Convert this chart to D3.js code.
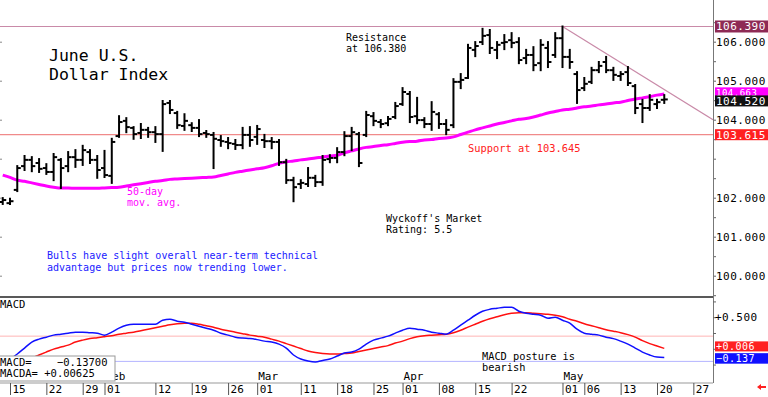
<!DOCTYPE html>
<html>
<head>
<meta charset="utf-8">
<script src="https://cdn.jsdelivr.net/npm/d3@7"></script>
<style>
body { margin: 0; background: #fff; }
svg text { font-family: "DejaVu Sans Mono", monospace; }
</style>
</head>
<body>
<script>
// June U.S. Dollar Index, daily bars Jan 12 - May 21 2024 (one value per session)
var holidays = ["2024-03-29"];

var opens = [101.89, 101.86, 102.20, 102.81, 102.97, 102.89, 102.76, 102.66, 102.97, 102.81,
  103.04, 102.97, 103.17, 102.97, 102.76, 102.56, 103.58, 103.97, 103.79, 103.66,
  103.74, 103.68, 103.63, 104.43, 104.17, 103.84, 103.86, 103.79, 103.66, 103.61,
  103.48, 103.43, 103.38, 103.35, 103.61, 103.56, 103.48, 103.45, 103.43, 102.91,
  102.45, 102.35, 102.35, 102.51, 102.40, 102.99, 103.02, 103.17, 103.58, 103.63,
  103.61, 104.09, 103.94, 103.91, 104.07, 104.40, 104.66, 104.09, 103.99, 103.89,
  104.14, 103.89, 103.86, 104.97, 105.07, 105.79, 105.99, 106.17, 105.79, 105.97,
  106.04, 105.99, 105.58, 105.66, 105.45, 105.84, 105.66, 106.09, 105.61, 105.17,
  104.81, 104.97, 105.27, 105.48, 105.27, 105.12, 105.22, 104.86, 104.40, 104.30,
  104.40, 104.51];
var highs = [101.99, 101.97, 102.81, 103.07, 103.04, 102.99, 102.86, 103.12, 102.99, 103.17,
  103.22, 103.33, 103.22, 103.07, 103.20, 103.51, 104.09, 104.04, 103.81, 103.89,
  103.79, 103.81, 104.48, 104.48, 104.20, 104.14, 103.91, 103.99, 103.71, 103.66,
  103.58, 103.53, 103.48, 103.79, 103.81, 103.84, 103.61, 103.53, 103.48, 102.97,
  102.51, 102.45, 102.76, 102.56, 103.07, 103.09, 103.27, 103.68, 103.79, 103.66,
  104.20, 104.17, 103.99, 104.07, 104.43, 104.81, 104.71, 104.56, 104.04, 104.45,
  104.17, 103.99, 105.04, 105.17, 105.92, 105.99, 106.33, 106.30, 105.99, 106.17,
  106.22, 106.09, 105.79, 105.86, 106.04, 105.99, 106.22, 106.39, 105.79, 105.22,
  105.07, 105.33, 105.48, 105.61, 105.33, 105.22, 105.35, 104.89, 104.51, 104.63,
  104.51, 104.63];
var lows = [101.84, 101.84, 102.17, 102.71, 102.68, 102.66, 102.61, 102.45, 102.25, 102.68,
  102.79, 102.84, 102.89, 102.51, 102.53, 102.38, 103.56, 103.68, 103.51, 103.53,
  103.56, 103.43, 103.20, 104.17, 103.79, 103.74, 103.71, 103.58, 103.56, 102.76,
  103.33, 103.27, 103.25, 103.27, 103.33, 103.38, 103.30, 103.27, 102.84, 102.38,
  101.91, 102.25, 102.30, 102.30, 102.33, 102.91, 102.91, 103.09, 103.22, 102.81,
  103.58, 103.86, 103.81, 103.86, 104.04, 104.38, 103.94, 103.91, 103.81, 103.74,
  103.79, 103.63, 103.81, 104.81, 105.07, 105.63, 105.94, 105.71, 105.58, 105.81,
  105.86, 105.45, 105.45, 105.27, 105.27, 105.35, 105.61, 105.35, 105.33, 104.43,
  104.76, 104.94, 105.22, 105.22, 105.02, 105.02, 104.89, 104.17, 103.94, 104.25,
  104.30, 104.43];
var closes = [101.94, 101.91, 102.76, 102.97, 102.81, 102.74, 102.66, 103.04, 102.76, 103.04,
  102.97, 103.22, 102.97, 102.71, 102.58, 103.43, 103.94, 103.81, 103.63, 103.74,
  103.68, 103.63, 104.40, 104.25, 103.86, 103.97, 103.79, 103.63, 103.63, 103.51,
  103.45, 103.40, 103.35, 103.61, 103.48, 103.76, 103.45, 103.43, 102.91, 102.45,
  102.27, 102.38, 102.51, 102.40, 102.97, 103.02, 103.17, 103.58, 103.68, 102.89,
  104.12, 103.97, 103.89, 104.02, 104.35, 104.71, 104.07, 103.99, 103.89, 104.20,
  103.89, 103.74, 104.97, 105.02, 105.84, 105.89, 106.15, 105.84, 105.92, 105.99,
  105.97, 105.53, 105.66, 105.40, 105.92, 105.48, 106.09, 105.61, 105.48, 104.76,
  104.92, 105.27, 105.38, 105.27, 105.15, 105.17, 104.94, 104.30, 104.30, 104.51,
  104.45, 104.52];
var ma50 = [102.58, 102.52, 102.45, 102.42, 102.38, 102.34, 102.30, 102.27, 102.25, 102.25,
  102.24, 102.24, 102.24, 102.24, 102.25, 102.26, 102.27, 102.30, 102.33, 102.36,
  102.39, 102.42, 102.44, 102.47, 102.48, 102.49, 102.50, 102.51, 102.52, 102.53,
  102.57, 102.61, 102.65, 102.68, 102.71, 102.74, 102.77, 102.82, 102.88, 102.92,
  102.94, 102.97, 102.99, 103.02, 103.04, 103.07, 103.09, 103.15, 103.20, 103.25,
  103.29, 103.31, 103.34, 103.36, 103.39, 103.42, 103.44, 103.45, 103.48, 103.49,
  103.52, 103.53, 103.56, 103.62, 103.68, 103.74, 103.79, 103.84, 103.89, 103.93,
  103.97, 104.01, 104.03, 104.07, 104.12, 104.17, 104.21, 104.25, 104.27, 104.30,
  104.33, 104.35, 104.38, 104.40, 104.43, 104.45, 104.49, 104.53, 104.56, 104.59,
  104.63, 104.66];
var macd = [-0.209, -0.162, -0.083, 0.011, 0.106, 0.153, 0.184, 0.216, 0.231, 0.247,
  0.263, 0.263, 0.255, 0.247, 0.216, 0.263, 0.326, 0.373, 0.389, 0.389,
  0.389, 0.389, 0.452, 0.468, 0.436, 0.420, 0.389, 0.357, 0.326, 0.294,
  0.247, 0.216, 0.184, 0.169, 0.161, 0.145, 0.121, 0.106, 0.074, 0.011,
  -0.099, -0.162, -0.194, -0.209, -0.186, -0.162, -0.115, -0.068, -0.052, -0.005,
  0.074, 0.137, 0.169, 0.200, 0.247, 0.294, 0.326, 0.310, 0.294, 0.263,
  0.247, 0.231, 0.294, 0.373, 0.452, 0.531, 0.594, 0.625, 0.641, 0.657,
  0.657, 0.594, 0.562, 0.546, 0.531, 0.483, 0.499, 0.452, 0.405, 0.310,
  0.247, 0.231, 0.216, 0.184, 0.161, 0.121, 0.074, 0.011, -0.052, -0.099,
  -0.131, -0.137];
var macdAvg = [-0.335, -0.272, -0.225, -0.178, -0.146, -0.099, -0.052, -0.005, 0.027, 0.058,
  0.106, 0.137, 0.161, 0.176, 0.192, 0.208, 0.231, 0.247, 0.263, 0.287,
  0.310, 0.334, 0.357, 0.381, 0.397, 0.405, 0.405, 0.389, 0.365, 0.342,
  0.310, 0.287, 0.263, 0.239, 0.216, 0.200, 0.184, 0.153, 0.121, 0.082,
  0.043, 0.003, -0.036, -0.060, -0.076, -0.083, -0.083, -0.076, -0.068, -0.044,
  -0.020, 0.003, 0.027, 0.050, 0.090, 0.121, 0.161, 0.192, 0.208, 0.216,
  0.224, 0.231, 0.255, 0.294, 0.342, 0.389, 0.436, 0.476, 0.507, 0.539,
  0.562, 0.570, 0.570, 0.562, 0.554, 0.546, 0.531, 0.507, 0.468, 0.436,
  0.397, 0.365, 0.334, 0.302, 0.279, 0.255, 0.224, 0.184, 0.129, 0.082,
  0.043, 0.006];

var priceLabels = [106, 105, 104, 102, 101, 100];
var resistance = 106.39, support = 103.615, maLast = 104.663;
var trendPts = [["2024-05-01", 106.39], ["2024-05-14", 105.35]];
var dayTicks = ["2024-01-15", "2024-01-22", "2024-01-29", "2024-02-01", "2024-02-12", "2024-02-19",
  "2024-02-26", "2024-03-01", "2024-03-11", "2024-03-18", "2024-03-25", "2024-04-01", "2024-04-08",
  "2024-04-15", "2024-04-22", "2024-05-01", "2024-05-06", "2024-05-13", "2024-05-20", "2024-05-27"];
var monthTicks = [["2024-02-01", "Feb"], ["2024-03-01", "Mar"], ["2024-04-01", "Apr"], ["2024-05-01", "May"]];

var width = 768, height = 397, plotRight = 713;

var parse = d3.timeParse("%Y-%m-%d"), fmt = d3.timeFormat("%Y-%m-%d");
var sessions = d3.timeDay.range(parse("2024-01-12"), parse("2024-06-01"))
  .filter(function(d) { return d.getDay() > 0 && d.getDay() < 6; })
  .map(fmt)
  .filter(function(s) { return holidays.indexOf(s) < 0; });
function idx(s) { return sessions.indexOf(s); }

var bars = closes.map(function(c, i) {
  return {i: i, o: opens[i], h: highs[i], l: lows[i], c: c, ma: ma50[i], m: macd[i], a: macdAvg[i]};
});

var x = d3.scaleLinear().domain([1, 90]).range([10, 657]);
var y = d3.scaleLinear().domain([100, 106]).range([275.7, 41.7]);
var ym = d3.scaleLinear().domain([-0.2, 0.5]).range([361.4, 317.2]);

var svg = d3.select("body").append("svg")
  .attr("width", width)
  .attr("height", height);

var defs = svg.append("defs");
defs.append("clipPath").attr("id", "cp").append("rect")
  .attr("x", 0).attr("y", 0).attr("width", plotRight).attr("height", 296);
defs.append("clipPath").attr("id", "cm").append("rect")
  .attr("x", 0).attr("y", 298).attr("width", plotRight).attr("height", 84);

// ---- price panel
var price = svg.append("g").attr("clip-path", "url(#cp)");

price.append("line")
  .attr("x1", 0).attr("x2", plotRight)
  .attr("y1", y(resistance)).attr("y2", y(resistance))
  .attr("stroke", "#c98aa8").attr("stroke-width", 1.2);
price.append("line")
  .attr("x1", 0).attr("x2", plotRight)
  .attr("y1", y(support)).attr("y2", y(support))
  .attr("stroke", "#f08a8a").attr("stroke-width", 1.2);

// down trend line through the May highs, carried to the right edge
var t0 = idx(trendPts[0][0]), t1 = idx(trendPts[1][0]);
var slope = (trendPts[1][1] - trendPts[0][1]) / (t1 - t0);
var tEnd = x.invert(plotRight);
price.append("line")
  .attr("x1", x(t0)).attr("y1", y(trendPts[0][1]))
  .attr("x2", x(tEnd)).attr("y2", y(trendPts[0][1] + slope * (tEnd - t0)))
  .attr("stroke", "#c98aa8").attr("stroke-width", 1.2);

price.append("path")
  .datum(bars)
  .attr("fill", "none")
  .attr("stroke", "#ff00ff")
  .attr("stroke-width", 3)
  .attr("d", d3.line().curve(d3.curveMonotoneX)
    .x(function(d) { return x(d.i); })
    .y(function(d) { return y(d.ma); }));

var bar = price.selectAll("g.bar").data(bars).enter().append("g")
  .attr("class", "bar")
  .attr("stroke", "#000")
  .attr("stroke-width", 2);
bar.append("line")
  .attr("x1", function(d) { return x(d.i); }).attr("x2", function(d) { return x(d.i); })
  .attr("y1", function(d) { return y(d.h) - 1; }).attr("y2", function(d) { return y(d.l) + 1; });
bar.append("line")
  .attr("x1", function(d) { return x(d.i) - 3.5; }).attr("x2", function(d) { return x(d.i); })
  .attr("y1", function(d) { return y(d.o); }).attr("y2", function(d) { return y(d.o); });
bar.append("line")
  .attr("x1", function(d) { return x(d.i); }).attr("x2", function(d) { return x(d.i) + 3.5; })
  .attr("y1", function(d) { return y(d.c); }).attr("y2", function(d) { return y(d.c); });

// texts
function lines(g, x0, y0, step, txt, size, color) {
  txt.forEach(function(t, k) {
    g.append("text").attr("x", x0).attr("y", y0 + k * step)
      .attr("font-size", size).attr("fill", color).text(t);
  });
}
lines(svg, 49, 61, 19, ["June U.S.", "Dollar Index"], "16.5px", "#000");
lines(svg, 346, 41, 10.5, ["Resistance", "at 106.380"], "10px", "#000");
svg.append("text").attr("x", 468).attr("y", 152).attr("font-size", "10.4px")
  .attr("fill", "#ff2020").text("Support at 103.645");
lines(svg, 127, 195, 10.5, ["50-day", "mov. avg."], "10px", "#ff00ff");
lines(svg, 386, 222, 10.5, ["Wyckoff's Market", "Rating: 5.5"], "10px", "#000");
lines(svg, 47, 259, 11.5, ["Bulls have slight overall near-term technical",
  "advantage but prices now trending lower."], "10px", "#1a1aff");

// right axis, price
svg.append("g")
  .attr("transform", "translate(" + plotRight + ",0)")
  .call(d3.axisRight(y).tickValues(d3.range(99.5, 106.6, 0.5)).tickSize(3).tickFormat(""))
  .call(function(g) { g.select(".domain").remove(); g.selectAll("line").attr("stroke", "#666"); });
svg.append("g")
  .attr("transform", "translate(" + plotRight + ",0)")
  .call(d3.axisRight(y).tickValues(priceLabels).tickSize(0).tickPadding(3).tickFormat(d3.format(".3f")))
  .call(function(g) {
    g.select(".domain").remove();
    g.selectAll("text").attr("font-family", "DejaVu Sans Mono").attr("font-size", "11px")
      .attr("letter-spacing", "0.5px").attr("fill", "#000");
  });
svg.append("g")
  .call(d3.axisRight(y).tickValues(d3.range(100, 107, 1)).tickSize(2).tickFormat(""))
  .call(function(g) { g.select(".domain").remove(); g.selectAll("line").attr("stroke", "#888"); });

svg.append("line")
  .attr("x1", plotRight + 0.5).attr("x2", plotRight + 0.5)
  .attr("y1", 0).attr("y2", 383)
  .attr("stroke", "#777").attr("stroke-width", 1);

function tag(cy, txt, fill, h, size) {
  svg.append("rect").attr("x", plotRight + 2).attr("y", cy - h / 2)
    .attr("width", width - plotRight - 2).attr("height", h).attr("fill", fill);
  svg.append("text").attr("x", plotRight + 3).attr("y", cy).attr("dy", "0.36em")
    .attr("font-size", size || "11px").attr("letter-spacing", "0.5px").attr("fill", "#fff").text(txt);
}
var lastBar = bars[bars.length - 1];
tag(y(resistance), d3.format(".3f")(resistance), "#8e2a55", 12);
tag(y(maLast) - 1.5, d3.format(".3f")(maLast), "#ff00ff", 10, "9px");
tag(y(lastBar.c) + 1.5, d3.format(".3f")(lastBar.c), "#111", 11);
tag(y(support), d3.format(".3f")(support), "#ff2020", 11);

// ---- MACD panel
svg.append("line")
  .attr("x1", 0).attr("x2", plotRight)
  .attr("y1", 297).attr("y2", 297)
  .attr("stroke", "#222").attr("stroke-width", 1.5);
svg.append("text").attr("x", 0).attr("y", 308).attr("font-size", "10.5px").text("MACD");

var mg = svg.append("g").attr("clip-path", "url(#cm)");
mg.append("line").attr("x1", 0).attr("x2", plotRight)
  .attr("y1", ym(0.2)).attr("y2", ym(0.2)).attr("stroke", "#ffb4b4");
mg.append("line").attr("x1", 0).attr("x2", plotRight)
  .attr("y1", ym(-0.2)).attr("y2", ym(-0.2)).attr("stroke", "#b4b4ff");
mg.append("path").datum(bars)
  .attr("fill", "none").attr("stroke", "#ff1010").attr("stroke-width", 1.5)
  .attr("d", d3.line().curve(d3.curveMonotoneX)
    .x(function(d) { return x(d.i); }).y(function(d) { return ym(d.a); }));
mg.append("path").datum(bars)
  .attr("fill", "none").attr("stroke", "#1010ff").attr("stroke-width", 1.5)
  .attr("d", d3.line().curve(d3.curveMonotoneX)
    .x(function(d) { return x(d.i); }).y(function(d) { return ym(d.m); }));

lines(svg, 482, 360, 11, ["MACD posture is", "bearish"], "10.3px", "#000");

svg.append("g")
  .attr("transform", "translate(" + plotRight + ",0)")
  .call(d3.axisRight(ym).tickValues([-0.25, 0, 0.25, 0.5, 0.75]).tickSize(3).tickFormat(""))
  .call(function(g) { g.select(".domain").remove(); g.selectAll("line").attr("stroke", "#666"); });
svg.append("text").attr("x", plotRight + 2).attr("y", ym(0.5)).attr("dy", "0.36em")
  .attr("font-size", "11px").attr("letter-spacing", "0.5px").text("+0.500");
tag(ym(lastBar.a) - 2, "+" + d3.format(".3f")(lastBar.a), "#ff2020", 10, "10px");
tag(ym(lastBar.m) + 1, d3.format(".3f")(lastBar.m), "#1010ff", 10.5, "10px");

// ---- date axis
svg.append("line")
  .attr("x1", 0).attr("x2", plotRight)
  .attr("y1", 383).attr("y2", 383)
  .attr("stroke", "#999");
svg.append("g")
  .attr("transform", "translate(0,383)")
  .call(d3.axisBottom(x).tickValues(dayTicks.map(idx)).tickSize(12)
    .tickFormat(function(k) { return d3.timeFormat("%d")(parse(sessions[k])); }))
  .call(function(g) {
    g.select(".domain").remove();
    g.selectAll("line").attr("stroke", "#555");
    g.selectAll("text").attr("text-anchor", "start").attr("x", 2).attr("y", 10).attr("dy", 0)
      .attr("font-family", "DejaVu Sans Mono").attr("font-size", "11px").attr("fill", "#000");
  });
svg.selectAll("text.month").data(monthTicks).enter().append("text")
  .attr("class", "month")
  .attr("x", function(d) { return x(idx(d[0])) + 1; })
  .attr("y", 380)
  .attr("font-size", "11px")
  .text(function(d) { return d[1]; });

// readout box
svg.append("rect").attr("x", -1).attr("y", 356).attr("width", 116).attr("height", 25)
  .attr("fill", "#fff").attr("stroke", "#999");
svg.append("text").attr("x", 0).attr("y", 366).attr("font-size", "10.5px").attr("xml:space", "preserve")
  .text("MACD=    " + d3.format(".5f")(-0.137));
svg.append("text").attr("x", 0).attr("y", 377).attr("font-size", "10.5px").attr("xml:space", "preserve")
  .text("MACDA= +" + d3.format(".5f")(0.00625));

// little red arrow, bottom right
svg.append("path")
  .attr("d", "M757,387 L761,384 L761,386 L766,386 L766,388 L761,388 L761,390 Z")
  .attr("fill", "#ff2020");
</script>
</body>
</html>
